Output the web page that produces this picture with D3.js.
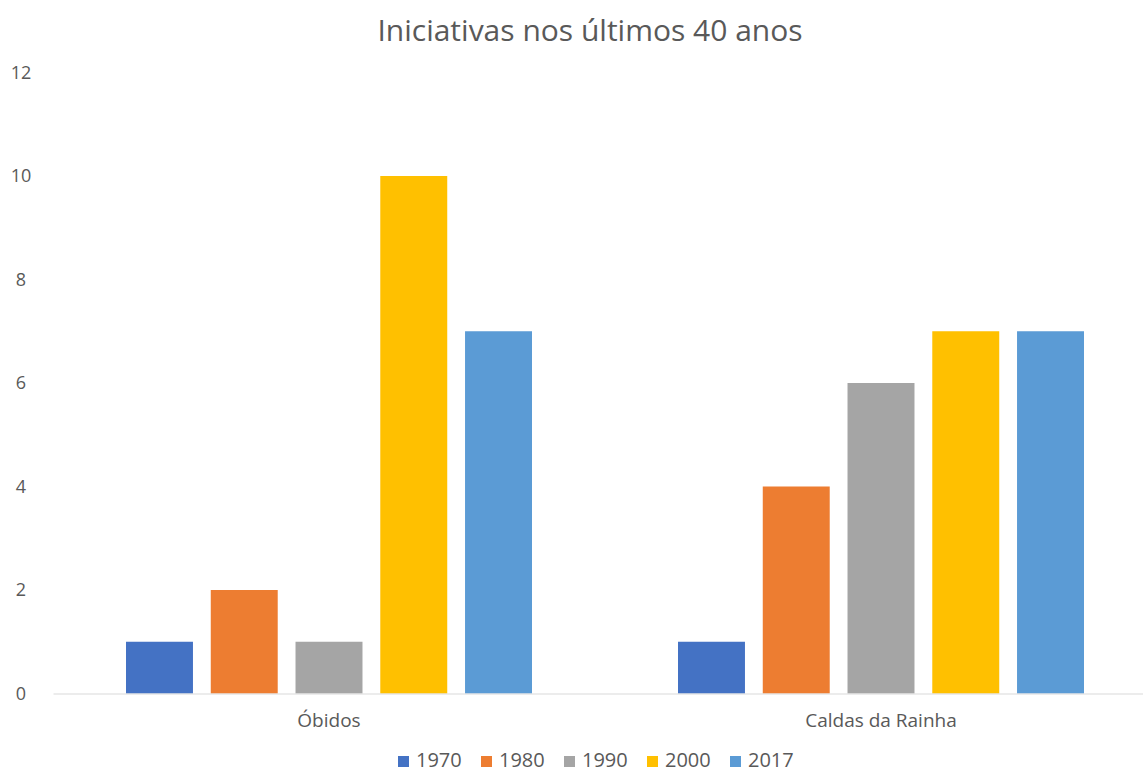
<!DOCTYPE html>
<html>
<head>
<meta charset="utf-8">
<script src="https://cdn.jsdelivr.net/npm/d3@7"></script>
<style>
  html, body { margin: 0; padding: 0; background: #fff; overflow: hidden; }
  svg text { font-family: "Open Sans", "Noto Sans", sans-serif; fill: #595959; }
</style>
</head>
<body>
<svg id="chart" width="1143" height="774"></svg>
<script>
// Chart data
const categories = ["Óbidos", "Caldas da Rainha"];
const years = ["1970", "1980", "1990", "2000", "2017"];
const values1970 = [1, 1];
const values1980 = [2, 4];
const values1990 = [1, 6];
const values2000 = [10, 7];
const values2017 = [7, 7];
const yTicks = [0, 2, 4, 6, 8, 10, 12];
const colors = ["#4472C4", "#ED7D31", "#A5A5A5", "#FFC000", "#5B9BD5"];
const title = "Iniciativas nos últimos 40 anos";

const seriesValues = [values1970, values1980, values1990, values2000, values2017];
const rows = categories.map((c, i) => ({
  category: c,
  values: years.map((y, j) => ({ year: y, value: seriesValues[j][i] }))
}));

const svg = d3.select("#chart");

// Layout
const plotLeft = 53, groupStep = 552;
const yTop = 72.5, yBottom = 693.5;

const x0 = d3.scaleBand()
  .domain(categories)
  .range([plotLeft, plotLeft + groupStep * categories.length])
  .padding(0);

const x1 = d3.scaleBand()
  .domain(years)
  .range([73, 479])
  .paddingInner(0.21);

const y = d3.scaleLinear().domain([0, 12]).range([yBottom, yTop]);
const color = d3.scaleOrdinal().domain(years).range(colors);

// Title
svg.append("text")
  .attr("x", 590)
  .attr("y", 41)
  .attr("text-anchor", "middle")
  .style("font-size", "30px")
  .text(title);

// Y axis labels (no axis line, no grid)
const yAxis = d3.axisLeft(y).tickValues(yTicks).tickSize(0).tickPadding(0);
const yg = svg.append("g").attr("transform", "translate(21,0)").call(yAxis);
yg.select(".domain").remove();
yg.selectAll("text")
  .attr("text-anchor", "middle")
  .attr("x", 0)
  .style("font-size", "18px")
  .attr("fill", "#595959");

// Bars
const groups = svg.append("g")
  .selectAll("g")
  .data(rows)
  .join("g")
  .attr("transform", d => `translate(${x0(d.category)},0)`);

groups.selectAll("rect")
  .data(d => d.values)
  .join("rect")
  .attr("x", d => x1(d.year))
  .attr("y", d => y(d.value))
  .attr("width", x1.bandwidth())
  .attr("height", d => y(0) - y(d.value))
  .attr("fill", d => color(d.year));

// Baseline / category axis
const xAxis = d3.axisBottom(x0).tickSize(0).tickPadding(20);
const xg = svg.append("g").attr("transform", `translate(0,${yBottom})`).call(xAxis);
xg.select(".domain").attr("stroke", "#d9d9d9").attr("stroke-width", 1.2);
xg.selectAll("text").style("font-size", "19px").attr("fill", "#595959");

// Legend
const legend = svg.append("g").attr("transform", "translate(398,767)");
const items = legend.selectAll("g")
  .data(years)
  .join("g")
  .attr("transform", (d, i) => `translate(${i * 83},0)`);
items.append("rect")
  .attr("x", 0).attr("y", -11)
  .attr("width", 11).attr("height", 11)
  .attr("fill", d => color(d));
items.append("text")
  .attr("x", 18).attr("y", 0)
  .style("font-size", "20px")
  .text(d => d);
</script>
</body>
</html>
